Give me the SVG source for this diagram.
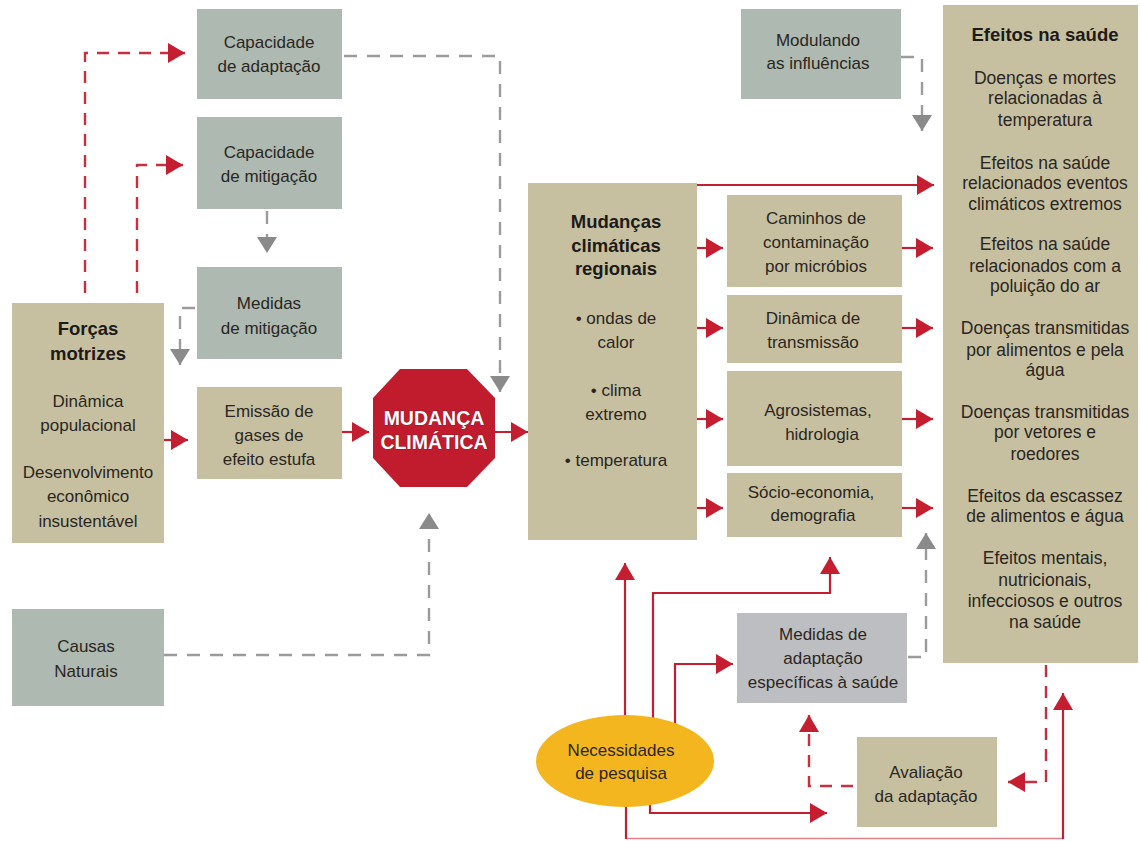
<svg xmlns="http://www.w3.org/2000/svg" width="1140" height="841" viewBox="0 0 1140 841">
<defs>
<style>
.tan{fill:#c6c0a1}
.sage{fill:#adb9b1}
.grey{fill:#bdbec1}
text{font-family:"Liberation Sans",Arial,sans-serif;font-size:17px;fill:#2b2622;text-anchor:middle}
.b{font-weight:bold;font-size:18.5px;fill:#1e1a18}
.e{font-size:17.5px}
.oct{font-weight:bold;font-size:19.5px;fill:#ffffff;stroke:#7a0f1a;stroke-width:0.6;paint-order:stroke}
.rs{fill:none;stroke:#c41e30;stroke-width:2.2}
.rt{fill:none;stroke:#e0808a;stroke-width:1.4}
.rd{fill:none;stroke:#c8303f;stroke-width:2.4;stroke-dasharray:12 9}
.gd{fill:none;stroke:#9b9b9b;stroke-width:2.4;stroke-dasharray:13 10}
</style>
<marker id="ar" markerUnits="userSpaceOnUse" markerWidth="17" markerHeight="20" refX="17" refY="10" orient="auto" viewBox="0 0 17 20"><path d="M0,0 L17,10 L0,20 z" fill="#c41e30"/></marker>
<marker id="ag" markerUnits="userSpaceOnUse" markerWidth="16" markerHeight="20" refX="16" refY="10" orient="auto" viewBox="0 0 16 20"><path d="M0,0 L16,10 L0,20 z" fill="#8a8a8a"/></marker>
</defs>
<rect width="1140" height="841" fill="#ffffff"/>

<g id="connectors">
<path class="rd" d="M85,293 V53 H185" marker-end="url(#ar)"/>
<path class="rd" d="M137,293 V165 H183" marker-end="url(#ar)"/>
<path class="rd" d="M853,786 H809 V715" marker-end="url(#ar)"/>
<path class="rd" d="M1046,665 V782 H1008" marker-end="url(#ar)"/>
<path class="gd" d="M344,56 H500 V392" marker-end="url(#ag)"/>
<path class="gd" d="M267,211 V253" marker-end="url(#ag)"/>
<path class="gd" d="M195,308 H180 V365" marker-end="url(#ag)"/>
<path class="gd" d="M164,655 H429 V513" marker-end="url(#ag)"/>
<path class="gd" d="M901,57 H922 V131" marker-end="url(#ag)"/>
<path class="gd" d="M908,657 H926 V533" marker-end="url(#ag)"/>
<path class="rs" d="M164,440 H188" marker-end="url(#ar)"/>
<path class="rs" d="M342,432 H369" marker-end="url(#ar)"/>
<path class="rs" d="M495,432 H528" marker-end="url(#ar)"/>
<path class="rs" d="M697,185 H934" marker-end="url(#ar)"/>
<path class="rs" d="M697,248 H723" marker-end="url(#ar)"/>
<path class="rs" d="M697,328 H723" marker-end="url(#ar)"/>
<path class="rs" d="M697,419 H723" marker-end="url(#ar)"/>
<path class="rs" d="M697,508 H723" marker-end="url(#ar)"/>
<path class="rs" d="M902,248 H933" marker-end="url(#ar)"/>
<path class="rs" d="M902,328 H933" marker-end="url(#ar)"/>
<path class="rs" d="M902,419 H933" marker-end="url(#ar)"/>
<path class="rs" d="M902,508 H933" marker-end="url(#ar)"/>
<path class="rs" d="M625,716 V563" marker-end="url(#ar)"/>
<path class="rs" d="M653,722 V593 H830 V557" marker-end="url(#ar)"/>
<path class="rs" d="M675,726 V664 H733" marker-end="url(#ar)"/>
<path class="rs" d="M650,795 V813 H827" marker-end="url(#ar)"/>
<path class="rt" d="M626,838.5 H1063"/>
<path class="rs" d="M626,805 V839"/>
<path class="rs" d="M1063,839 V693" marker-end="url(#ar)"/>
</g>

<g id="cap-adaptacao"><rect class="sage" x="197" y="9" width="145" height="90"/>
<text x="269" y="48">Capacidade</text><text x="269" y="72">de adaptação</text></g>

<g id="cap-mitigacao"><rect class="sage" x="197" y="117" width="145" height="92"/>
<text x="269" y="158">Capacidade</text><text x="269" y="182">de mitigação</text></g>

<g id="medidas-mitigacao"><rect class="sage" x="197" y="267" width="145" height="92"/>
<text x="269" y="309">Medidas</text><text x="269" y="334">de mitigação</text></g>

<g id="forcas-motrizes"><rect class="tan" x="12" y="303" width="152" height="240"/>
<text class="b" x="88" y="335">Forças</text><text class="b" x="88" y="360">motrizes</text>
<text x="88" y="407">Dinâmica</text><text x="88" y="431">populacional</text>
<text x="88" y="478">Desenvolvimento</text><text x="88" y="502">econômico</text><text x="88" y="527">insustentável</text></g>

<g id="emissao"><rect class="tan" x="197" y="387" width="145" height="92"/>
<text x="269" y="417">Emissão de</text><text x="269" y="441">gases de</text><text x="269" y="465">efeito estufa</text></g>

<g id="mudanca-climatica"><polygon points="400,369 467,369 495,398 495,458 467,487 400,487 373,458 373,398" fill="#c11b2e"/>
<text class="oct" x="434" y="425">MUDANÇA</text><text class="oct" x="434" y="449">CLIMÁTICA</text></g>

<g id="causas-naturais"><rect class="sage" x="12" y="609" width="152" height="97"/>
<text x="86" y="652">Causas</text><text x="86" y="677">Naturais</text></g>

<g id="mudancas-regionais"><rect class="tan" x="528" y="183" width="169" height="357"/>
<text class="b" x="616" y="228">Mudanças</text><text class="b" x="616" y="252">climáticas</text><text class="b" x="616" y="275">regionais</text>
<text x="616" y="324">• ondas de</text><text x="616" y="348">calor</text>
<text x="616" y="396">• clima</text><text x="616" y="420">extremo</text>
<text x="616" y="466">• temperatura</text></g>

<g id="caminhos"><rect class="tan" x="727" y="195" width="175" height="92"/>
<text x="816" y="224">Caminhos de</text><text x="816" y="248">contaminação</text><text x="816" y="272">por micróbios</text></g>

<g id="dinamica"><rect class="tan" x="727" y="295" width="175" height="68"/>
<text x="813" y="324">Dinâmica de</text><text x="813" y="348">transmissão</text></g>

<g id="agrosistemas"><rect class="tan" x="727" y="371" width="175" height="95"/>
<text x="818" y="416">Agrosistemas,</text><text x="822" y="440">hidrologia</text></g>

<g id="socio-economia"><rect class="tan" x="727" y="473" width="175" height="64"/>
<text x="811" y="498">Sócio-economia,</text><text x="813" y="521">demografia</text></g>

<g id="modulando"><rect class="sage" x="741" y="9" width="160" height="90"/>
<text x="818" y="46">Modulando</text><text x="818" y="69">as influências</text></g>

<g id="efeitos-saude"><rect class="tan" x="943" y="5" width="195" height="658"/>
<text class="b" x="1045" y="41">Efeitos na saúde</text>
<text class="e" x="1045" y="84">Doenças e mortes</text><text class="e" x="1045" y="104">relacionadas à</text><text class="e" x="1045" y="126">temperatura</text>
<text class="e" x="1045" y="169">Efeitos na saúde</text><text class="e" x="1045" y="189">relacionados eventos</text><text class="e" x="1045" y="210">climáticos extremos</text>
<text class="e" x="1045" y="250">Efeitos na saúde</text><text class="e" x="1045" y="272">relacionados com a</text><text class="e" x="1045" y="292">poluição do ar</text>
<text class="e" x="1045" y="334">Doenças transmitidas</text><text class="e" x="1045" y="356">por alimentos e pela</text><text class="e" x="1045" y="376">água</text>
<text class="e" x="1045" y="418">Doenças transmitidas</text><text class="e" x="1045" y="438">por vetores e</text><text class="e" x="1045" y="460">roedores</text>
<text class="e" x="1045" y="502">Efeitos da escassez</text><text class="e" x="1045" y="522">de alimentos e água</text>
<text class="e" x="1045" y="564">Efeitos mentais,</text><text class="e" x="1045" y="586">nutricionais,</text><text class="e" x="1045" y="607">infecciosos e outros</text><text class="e" x="1045" y="628">na saúde</text></g>

<g id="medidas-adaptacao"><rect class="grey" x="737" y="613" width="170" height="90"/>
<text x="823" y="640">Medidas de</text><text x="823" y="664">adaptação</text><text x="823" y="688">específicas à saúde</text></g>

<g id="necessidades-pesquisa"><ellipse cx="625" cy="761" rx="89" ry="46" fill="#f3b61f"/>
<text x="621" y="756">Necessidades</text><text x="621" y="779">de pesquisa</text></g>

<g id="avaliacao"><rect class="tan" x="857" y="737" width="140" height="90"/>
<text x="926" y="778">Avaliação</text><text x="926" y="802">da adaptação</text></g>
</svg>
